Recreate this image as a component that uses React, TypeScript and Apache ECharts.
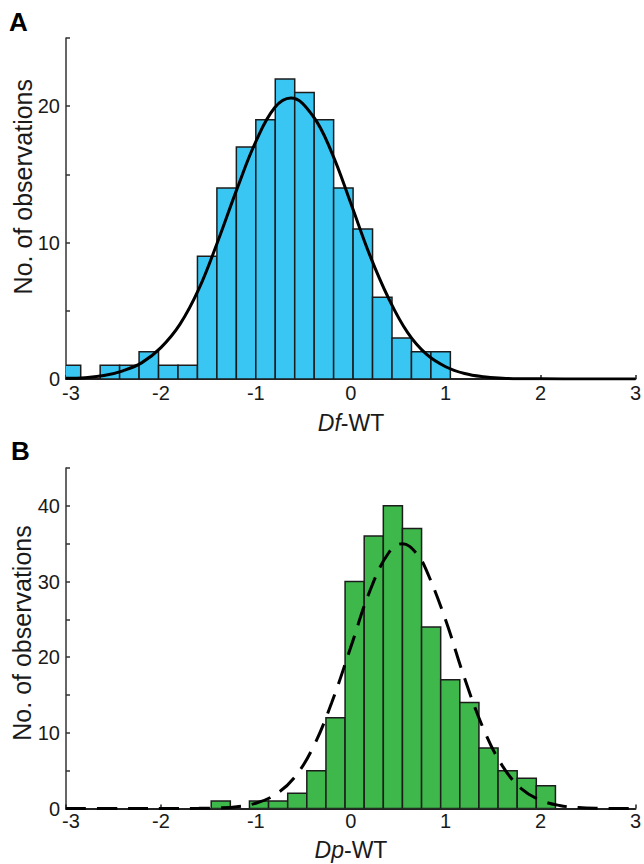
import React, { useEffect, useRef } from "react";
import * as echarts from "echarts";

// ---------- Data ----------
// Panel A: Df-WT histogram
const binStartA = -3.05;
const binWidthA = 0.205;
const countsA = [1, 0, 1, 1, 2, 1, 1, 9, 14, 17, 19, 22, 21, 19, 14, 11, 6, 3, 2, 2];
// Fitted curve A (solid)
const curveAX = [-3.0, -2.8, -2.6, -2.4, -2.2, -2.0, -1.8, -1.6, -1.4, -1.2, -1.0, -0.8, -0.63, -0.4, -0.2, 0.0, 0.2, 0.4, 0.6, 0.8, 1.0, 1.2, 1.4, 1.6, 1.8, 2.0, 2.5, 3.0];
const curveAY = [0.05, 0.1, 0.25, 0.6, 1.2, 2.3, 4.0, 6.6, 10.1, 13.9, 17.4, 19.9, 20.6, 19.3, 16.6, 12.9, 9.1, 5.9, 3.4, 1.8, 0.9, 0.4, 0.16, 0.06, 0.02, 0.01, 0, 0];

// Panel B: Dp-WT histogram
const binStartB = -1.47;
const binWidthB = 0.2015;
const countsB = [1, 0, 1, 1, 2, 5, 12, 30, 36, 40, 37, 24, 17, 14, 8, 5, 4, 3];
// Fitted curve B (dashed)
const curveBX = [-3.0, -2.5, -2.0, -1.6, -1.4, -1.2, -1.0, -0.8, -0.6, -0.4, -0.2, 0.0, 0.2, 0.4, 0.545, 0.7, 0.8, 1.0, 1.2, 1.4, 1.6, 1.8, 2.0, 2.2, 2.4, 2.6, 3.0];
const curveBY = [0, 0, 0, 0.02, 0.07, 0.23, 0.7, 1.8, 4.0, 8.0, 14.0, 21.3, 28.7, 33.8, 35.0, 33.6, 31.4, 24.9, 17.2, 10.5, 5.6, 2.6, 1.1, 0.4, 0.12, 0.03, 0];

const xTicks = [-3, -2, -1, 0, 1, 2, 3];
const yMaxA = 25;
const yMaxB = 45;
const yLabelStep = 10;
const yTickStep = 5;

const FONT = "'Liberation Sans', Arial, Helvetica, sans-serif";
const TEXT = "#1a1a1a";

function binsToData(start: number, width: number, counts: number[]) {
  return counts.map((c, i) => [start + i * width, start + (i + 1) * width, c]);
}

function barSeries(gridIndex: number, data: number[][], fill: string) {
  return {
    type: "custom",
    xAxisIndex: gridIndex,
    yAxisIndex: gridIndex,
    clip: true,
    z: 2,
    data,
    encode: { x: [0, 1], y: 2 },
    renderItem: (params: any, api: any) => {
      const h = api.value(2);
      if (!h) return null;
      const p0 = api.coord([api.value(0), h]);
      const p1 = api.coord([api.value(1), 0]);
      return {
        type: "rect",
        shape: { x: p0[0], y: p0[1], width: p1[0] - p0[0], height: p1[1] - p0[1] },
        style: { fill, stroke: "#1c1c1c", lineWidth: 1.5 },
      };
    },
  };
}

function xAxisCfg(gridIndex: number, margin: number) {
  return {
    type: "value",
    gridIndex,
    min: xTicks[0],
    max: xTicks[xTicks.length - 1],
    interval: 1,
    axisLine: { show: true, onZero: false, lineStyle: { color: "#222", width: 2 } },
    axisTick: { show: true, inside: true, length: 4, lineStyle: { color: "#222", width: 1.5 } },
    axisLabel: {
      fontSize: 20,
      color: TEXT,
      fontFamily: FONT,
      margin,
      formatter: (v: number) => (v === xTicks[0] ? `{m|${v}}` : String(v)),
      rich: { m: { fontSize: 20, fontFamily: FONT, color: TEXT, padding: [0, 0, 0, 10] } },
    },
    splitLine: { show: false },
  };
}

function yAxisCfg(gridIndex: number, max: number) {
  return {
    type: "value",
    gridIndex,
    min: 0,
    max,
    interval: yTickStep,
    axisLine: { show: true, onZero: false, lineStyle: { color: "#333", width: 1.5 } },
    axisTick: { show: true, inside: true, length: 4, lineStyle: { color: "#333", width: 1.5 } },
    axisLabel: {
      fontSize: 20,
      color: TEXT,
      fontFamily: FONT,
      margin: 6,
      formatter: (v: number) => (v % yLabelStep === 0 ? String(v) : ""),
    },
    splitLine: { show: false },
  };
}

export default function App() {
  const ref = useRef<HTMLDivElement>(null);

  useEffect(() => {
    if (!ref.current) return;
    const chart = echarts.init(ref.current, undefined, { renderer: "svg" });
    const option: any = {
      animation: false,
      backgroundColor: "#ffffff",
      grid: [
        { left: 66, top: 38, width: 571, height: 341 },
        { left: 66, top: 468, width: 571, height: 340.5 },
      ],
      xAxis: [xAxisCfg(0, 4), xAxisCfg(1, 2.5)],
      yAxis: [yAxisCfg(0, yMaxA), yAxisCfg(1, yMaxB)],
      series: [
        barSeries(0, binsToData(binStartA, binWidthA, countsA), "#3AC6F3"),
        {
          type: "line",
          xAxisIndex: 0,
          yAxisIndex: 0,
          data: curveAX.map((x, i) => [x, curveAY[i]]),
          smooth: 0.4,
          symbol: "none",
          z: 5,
          lineStyle: { color: "#000", width: 3 },
        },
        barSeries(1, binsToData(binStartB, binWidthB, countsB), "#3EB84A"),
        {
          type: "line",
          xAxisIndex: 1,
          yAxisIndex: 1,
          data: curveBX.map((x, i) => [x, curveBY[i]]),
          smooth: 0.4,
          symbol: "none",
          z: 5,
          lineStyle: { color: "#000", width: 3, type: [20, 11] },
        },
      ],
      graphic: [
        {
          type: "text",
          x: 9,
          y: 21.5,
          style: { text: "A", font: `bold 26px ${FONT}`, fill: "#000", textVerticalAlign: "middle" },
        },
        {
          type: "text",
          x: 11,
          y: 451,
          style: { text: "B", font: `bold 26px ${FONT}`, fill: "#000", textVerticalAlign: "middle" },
        },
        {
          type: "text",
          x: 22.5,
          y: 186.7,
          rotation: Math.PI / 2,
          style: {
            text: "No. of observations",
            font: `25px ${FONT}`,
            fill: TEXT,
            textAlign: "center",
            textVerticalAlign: "middle",
          },
        },
        {
          type: "text",
          x: 22,
          y: 633,
          rotation: Math.PI / 2,
          style: {
            text: "No. of observations",
            font: `25px ${FONT}`,
            fill: TEXT,
            textAlign: "center",
            textVerticalAlign: "middle",
          },
        },
        {
          type: "text",
          x: 351,
          y: 422.5,
          style: {
            text: "{i|Df}{n|-WT}",
            textAlign: "center",
            textVerticalAlign: "middle",
            fill: TEXT,
            rich: {
              i: { fontStyle: "italic", fontSize: 23, fontFamily: FONT, fill: TEXT },
              n: { fontSize: 23, fontFamily: FONT, fill: TEXT },
            },
          },
        },
        {
          type: "text",
          x: 351,
          y: 850,
          style: {
            text: "{i|Dp}{n|-WT}",
            textAlign: "center",
            textVerticalAlign: "middle",
            fill: TEXT,
            rich: {
              i: { fontStyle: "italic", fontSize: 23, fontFamily: FONT, fill: TEXT },
              n: { fontSize: 23, fontFamily: FONT, fill: TEXT },
            },
          },
        },
      ],
    };
    chart.setOption(option);
    return () => chart.dispose();
  }, []);

  return (
    <div
      ref={ref}
      style={{ position: "fixed", left: 0, top: 0, width: 644, height: 864, background: "#fff" }}
    />
  );
}
